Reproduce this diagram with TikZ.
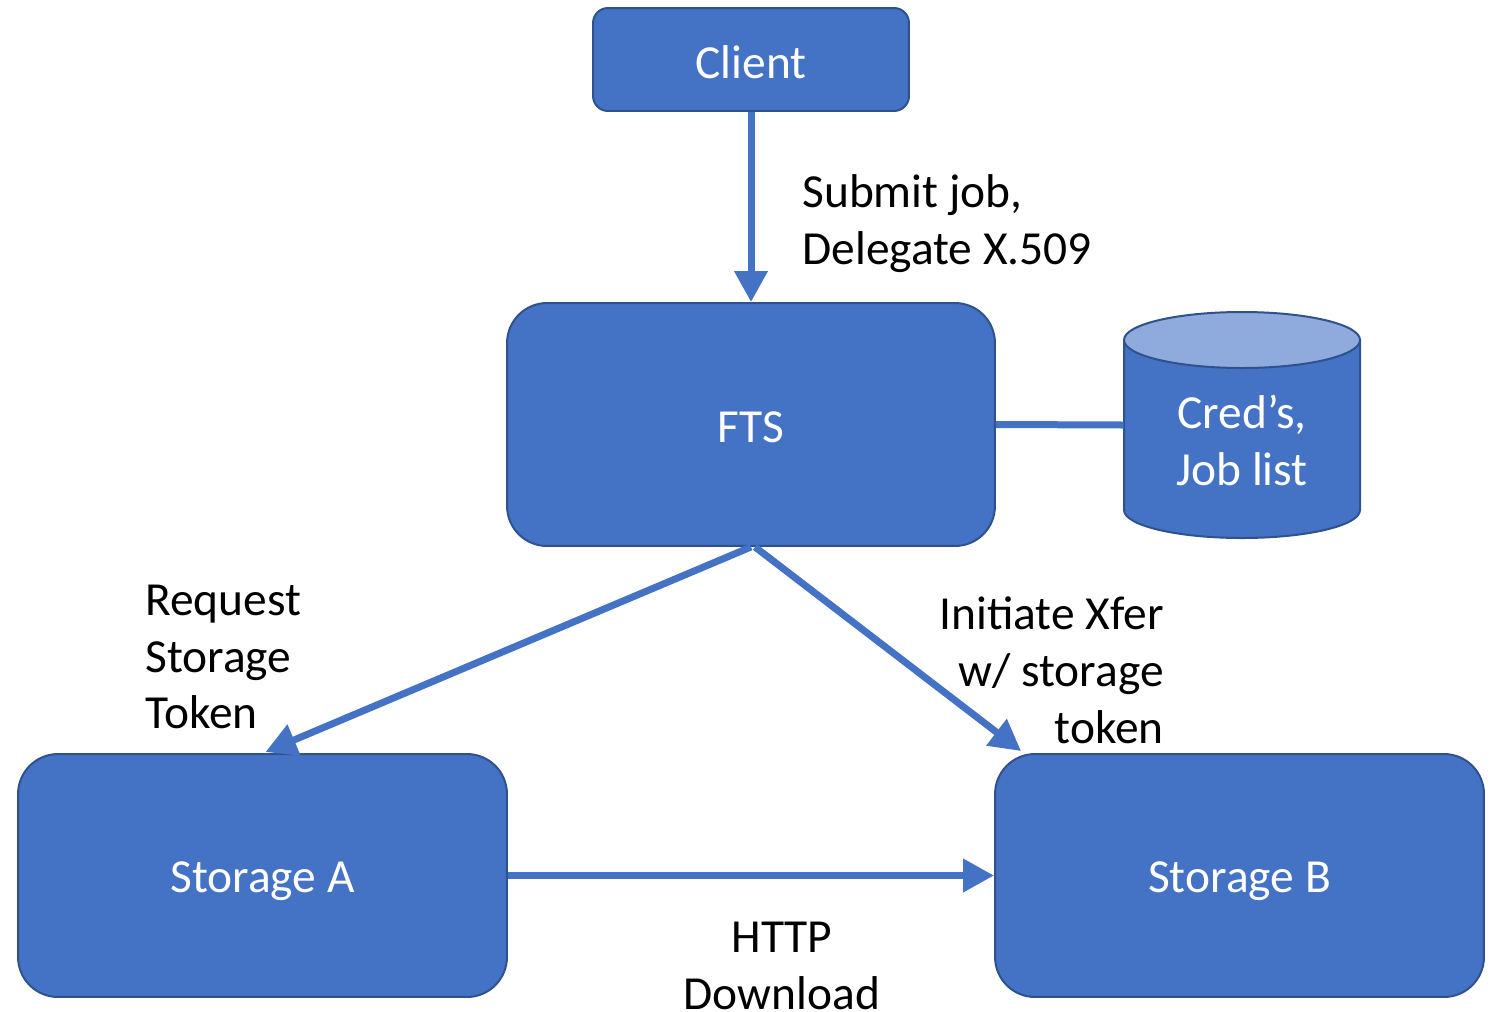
\documentclass[tikz,border=0pt]{standalone}
\usepackage{fontspec}
\setmainfont{Carlito}
\usetikzlibrary{arrows.meta,calc}
\definecolor{boxblue}{HTML}{4472C4}
\definecolor{boxedge}{HTML}{2F528F}
\definecolor{toplight}{HTML}{8FAADC}
\newcommand{\lowered}[2]{\raisebox{#1}[\height][\depth]{#2}}
\begin{document}
\begin{tikzpicture}[x=0.02cm,y=-0.02cm,
  box/.style={draw=boxedge,line width=0.04cm,fill=boxblue,text=white,font=\fontsize{27}{32.4}\selectfont,align=center,inner sep=0pt},
  lbl/.style={font=\fontsize{27}{32.4}\selectfont,inner sep=0pt},
  conn/.style={draw=boxblue,line width=0.14cm},
  arr/.style={conn,-{Triangle[length=0.62cm,width=0.64cm]}}]
\useasboundingbox (0,0) rectangle (1496,1011);
\node[box,rounded corners=0.3cm,minimum width=6.32cm,minimum height=2.06cm] (client) at (751,59.5) {\lowered{-0.05cm}{Client}};
\node[box,rounded corners=0.8cm,minimum width=9.76cm,minimum height=4.86cm] (fts) at (751,424.5) {\lowered{-0.05cm}{FTS}};
\node[box,rounded corners=0.8cm,minimum width=9.78cm,minimum height=4.86cm] (sa) at (262.5,875.5) {\lowered{-0.11cm}{Storage A}};
\node[box,rounded corners=0.8cm,minimum width=9.78cm,minimum height=4.86cm] (sb) at (1239.5,875.5) {\lowered{-0.11cm}{Storage B}};
% database cylinder
\node[inner sep=0pt,minimum width=4.72cm,minimum height=4.52cm] (db) at (1242,425) {};
\filldraw[draw=boxedge,line width=0.04cm,fill=boxblue] (1124,340) -- (1124,510) arc[start angle=180,end angle=0,x radius=118,y radius=28] -- (1360,340) -- cycle;
\filldraw[draw=boxedge,line width=0.04cm,fill=toplight] (1242,340) ellipse[x radius=118,y radius=28];
\node[lbl,text=white,align=center] (dbtext) at (1242,440) {Cred’s,\\Job list};
% connectors
\draw[arr] (client.south) -- (fts.north);
\draw[conn] (fts.east) -- (db.west);
\draw[arr] (fts.south) -- ($(sa.north)+(3,-1)$);
\draw[arr] ($(fts.south)+(4,0)$) -- ($(sb.north west)+(27,-2)$);
\draw[arr] (sa.east) -- (sb.west);
% labels
\node[lbl,align=left,anchor=west] (l1) at (802,224) {Submit job,\\Delegate X.509};
\node[lbl,align=left,anchor=west] (l2) at (145,657) {Request\\Storage\\Token};
\node[lbl,align=right,anchor=east] (l3) at (1164,670) {Initiate Xfer\\w/ storage\\token};
\node[lbl,align=center] (l4) at (782,966) {HTTP\\Download};
\end{tikzpicture}
\end{document}
